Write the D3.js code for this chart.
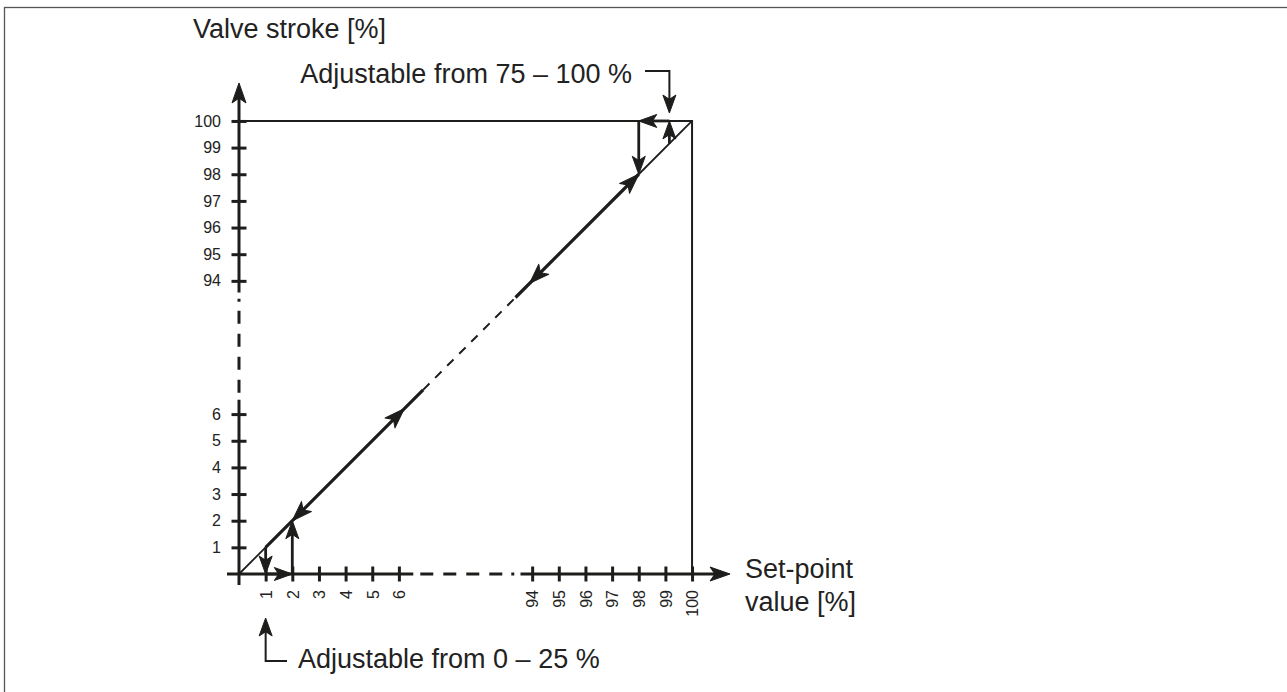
<!DOCTYPE html>
<html>
<head>
<meta charset="utf-8">
<script src="https://cdn.jsdelivr.net/npm/d3@7"></script>
<style>
  body { margin: 0; background: #fff; }
  svg { display: block; font-family: "Liberation Sans", Arial, Helvetica, sans-serif; }
</style>
</head>
<body>
<div id="chart"></div>
<script>
// tick values of the two broken axes (percent)
var xTicks = [1, 2, 3, 4, 5, 6, 94, 95, 96, 97, 98, 99, 100];
var yTicks = [1, 2, 3, 4, 5, 6, 94, 95, 96, 97, 98, 99, 100];

// pieces of the characteristic line y = x, [from, to] in percent
var diagThin = [[0, 1], [98, 100]];
var diagThick = [[1, 22], [83, 98]];
var diagDashed = [[22, 83]];

// arrow heads on the characteristic: tip value, +1 = upwards, -1 = downwards
var diagArrows = [
  { v: 2, dir: -1 },
  { v: 9.5, dir: 1 },
  { v: 92.3, dir: -1 },
  { v: 98, dir: 1 }
];

// jumps at the ends of the range (from -> to, arrow at "to")
var steps = [
  { x1: 1, y1: 1, x2: 1, y2: 0 },
  { x1: 1, y1: 0, x2: 2, y2: 0 },
  { x1: 2, y1: 0, x2: 2, y2: 2 },
  { x1: 98, y1: 100, x2: 98, y2: 98 },
  { x1: 99.15, y1: 100, x2: 98, y2: 100 },
  { x1: 99.15, y1: 99.15, x2: 99.15, y2: 100 }
];

// part of each axis drawn broken (percent)
var axisBreak = [15.5, 86.3];

var width = 1287, height = 692;
var ink = "#1d1d1b";
var unit = 26.65;
var x0 = 239, y0 = 574;

var svg = d3.select('#chart').append('svg')
  .attr('width', width)
  .attr('height', height);

// frame
svg.append('rect')
  .attr('x', 4.5).attr('y', 7.5)
  .attr('width', 1400).attr('height', 800)
  .attr('fill', 'none')
  .attr('stroke', '#555')
  .attr('stroke-width', 1.3);

// broken scales: 0..6 and 94..100 share one spacing, the gap takes 5 steps
var x = d3.scaleLinear()
  .domain([0, 6, 94, 100])
  .range([x0, x0 + 6 * unit, x0 + 11 * unit, x0 + 17 * unit]);
var y = d3.scaleLinear()
  .domain([0, 6, 94, 100])
  .range([y0, y0 - 6 * unit, y0 - 11 * unit, y0 - 17 * unit]);

function arrowHead(g, tx, ty, deg, L, W) {
  L = L || 20; W = W || 14;
  g.append('path')
    .attr('d', 'M0,0 L' + (-L) + ',' + (-W / 2) + ' L' + (-0.76 * L) + ',0 L' + (-L) + ',' + (W / 2) + 'Z')
    .attr('transform', 'translate(' + tx + ',' + ty + ') rotate(' + deg + ')')
    .attr('fill', ink)
    .attr('stroke', ink).attr('stroke-width', 1).attr('stroke-linejoin', 'round');
}

var breakPattern = '0 7 13 10 13 10 13 10 13 9 3 40';

// ---- y axis ----
var yAxisG = svg.append('g');
yAxisG.append('line')
  .attr('x1', x0).attr('x2', x0)
  .attr('y1', y0 + 11).attr('y2', y(axisBreak[0]))
  .attr('stroke', ink).attr('stroke-width', 3);
yAxisG.append('line')
  .attr('x1', x0).attr('x2', x0)
  .attr('y1', y(axisBreak[0])).attr('y2', y(axisBreak[1]))
  .attr('stroke', ink).attr('stroke-width', 3)
  .attr('stroke-dasharray', breakPattern);
yAxisG.append('line')
  .attr('x1', x0).attr('x2', x0)
  .attr('y1', y(axisBreak[1])).attr('y2', y(100) - 30)
  .attr('stroke', ink).attr('stroke-width', 3);
arrowHead(yAxisG, x0, y(100) - 38, -90, 20, 14);

var yAxis = svg.append('g')
  .attr('transform', 'translate(' + x0 + ',0)')
  .call(d3.axisLeft(y).tickValues(yTicks).tickSize(7.5).tickPadding(10.5));
yAxis.select('.domain').remove();
yAxis.selectAll('.tick line')
  .attr('x1', -7.5).attr('x2', 7.5)
  .attr('stroke', ink).attr('stroke-width', 3);
yAxis.selectAll('.tick text')
  .attr('fill', '#222')
  .style('font-size', '16px')
  .style('font-family', '"Liberation Sans", Arial, sans-serif');

// ---- x axis ----
var xAxisG = svg.append('g');
xAxisG.append('line')
  .attr('y1', y0).attr('y2', y0)
  .attr('x1', x0 - 12).attr('x2', x(axisBreak[0]))
  .attr('stroke', ink).attr('stroke-width', 3);
xAxisG.append('line')
  .attr('y1', y0).attr('y2', y0)
  .attr('x1', x(axisBreak[0])).attr('x2', x(axisBreak[1]))
  .attr('stroke', ink).attr('stroke-width', 3)
  .attr('stroke-dasharray', breakPattern);
xAxisG.append('line')
  .attr('y1', y0).attr('y2', y0)
  .attr('x1', x(axisBreak[1])).attr('x2', x(100) + 30)
  .attr('stroke', ink).attr('stroke-width', 3);
arrowHead(xAxisG, x(100) + 38, y0, 0, 20, 14);

var xAxis = svg.append('g')
  .attr('transform', 'translate(0,' + y0 + ')')
  .call(d3.axisBottom(x).tickValues(xTicks).tickSize(7.5));
xAxis.select('.domain').remove();
xAxis.selectAll('.tick line')
  .attr('y1', -7.5).attr('y2', 7.5)
  .attr('stroke', ink).attr('stroke-width', 3);
xAxis.selectAll('.tick text')
  .attr('y', 0).attr('x', 0).attr('dy', '0.36em')
  .attr('transform', 'translate(0,16) rotate(-90)')
  .attr('text-anchor', 'end')
  .attr('fill', '#222')
  .style('font-size', '16px')
  .style('font-family', '"Liberation Sans", Arial, sans-serif');

// ---- frame of the 100 % stroke ----
svg.append('path')
  .attr('d', 'M' + x0 + ',' + y(100) + ' H' + x(100) + ' V' + y0)
  .attr('fill', 'none')
  .attr('stroke', ink).attr('stroke-width', 2);

// ---- characteristic ----
var diag = svg.append('g');
diag.selectAll('line.thin')
  .data(diagThin).enter().append('line')
  .attr('class', 'thin')
  .attr('x1', function (d) { return x(d[0]); })
  .attr('y1', function (d) { return y(d[0]); })
  .attr('x2', function (d) { return x(d[1]); })
  .attr('y2', function (d) { return y(d[1]); })
  .attr('stroke', ink).attr('stroke-width', 1.8);
diag.selectAll('line.thick')
  .data(diagThick).enter().append('line')
  .attr('class', 'thick')
  .attr('x1', function (d) { return x(d[0]); })
  .attr('y1', function (d) { return y(d[0]); })
  .attr('x2', function (d) { return x(d[1]); })
  .attr('y2', function (d) { return y(d[1]); })
  .attr('stroke', ink).attr('stroke-width', 3.2);
diag.selectAll('line.dashed')
  .data(diagDashed).enter().append('line')
  .attr('class', 'dashed')
  .attr('x1', function (d) { return x(d[0]); })
  .attr('y1', function (d) { return y(d[0]); })
  .attr('x2', function (d) { return x(d[1]); })
  .attr('y2', function (d) { return y(d[1]); })
  .attr('stroke', ink).attr('stroke-width', 2)
  .attr('stroke-dasharray', '9 8');

diagArrows.forEach(function (a) {
  arrowHead(diag, x(a.v), y(a.v), a.dir > 0 ? -45 : 135, 20, 14);
});

// ---- jump arrows ----
var stepG = svg.append('g');
steps.forEach(function (s) {
  var ax = x(s.x1), ay = y(s.y1), bx = x(s.x2), by = y(s.y2);
  var len = Math.hypot(bx - ax, by - ay);
  var ux = (bx - ax) / len, uy = (by - ay) / len;
  stepG.append('line')
    .attr('x1', ax).attr('y1', ay)
    .attr('x2', bx - ux * 10).attr('y2', by - uy * 10)
    .attr('stroke', ink).attr('stroke-width', 2.8);
  arrowHead(stepG, bx, by, Math.atan2(uy, ux) * 180 / Math.PI, 18, 13);
});

// ---- texts ----
var big = '27px';
svg.append('text')
  .attr('x', 193).attr('y', 38)
  .attr('fill', '#222').style('font-size', big)
  .text('Valve stroke [%]');

svg.append('text')
  .attr('x', 745).attr('y', 578)
  .attr('fill', '#222').style('font-size', big)
  .text('Set-point');
svg.append('text')
  .attr('x', 745).attr('y', 611)
  .attr('fill', '#222').style('font-size', big)
  .text('value [%]');

// top note
svg.append('text')
  .attr('x', 632).attr('y', 83)
  .attr('text-anchor', 'end')
  .attr('fill', '#222').style('font-size', big)
  .text('Adjustable from 75 \u2013 100 %');
svg.append('path')
  .attr('d', 'M645,71 H' + x(99.15) + ' V100')
  .attr('fill', 'none').attr('stroke', ink).attr('stroke-width', 2);
arrowHead(svg, x(99.15), 113, 90, 18, 13);

// bottom note
svg.append('text')
  .attr('x', 298).attr('y', 668)
  .attr('fill', '#222').style('font-size', big)
  .text('Adjustable from 0 \u2013 25 %');
svg.append('path')
  .attr('d', 'M' + x(1) + ',630 V661 H287')
  .attr('fill', 'none').attr('stroke', ink).attr('stroke-width', 2);
arrowHead(svg, x(1), 618, -90, 18, 13);
</script>
</body>
</html>
